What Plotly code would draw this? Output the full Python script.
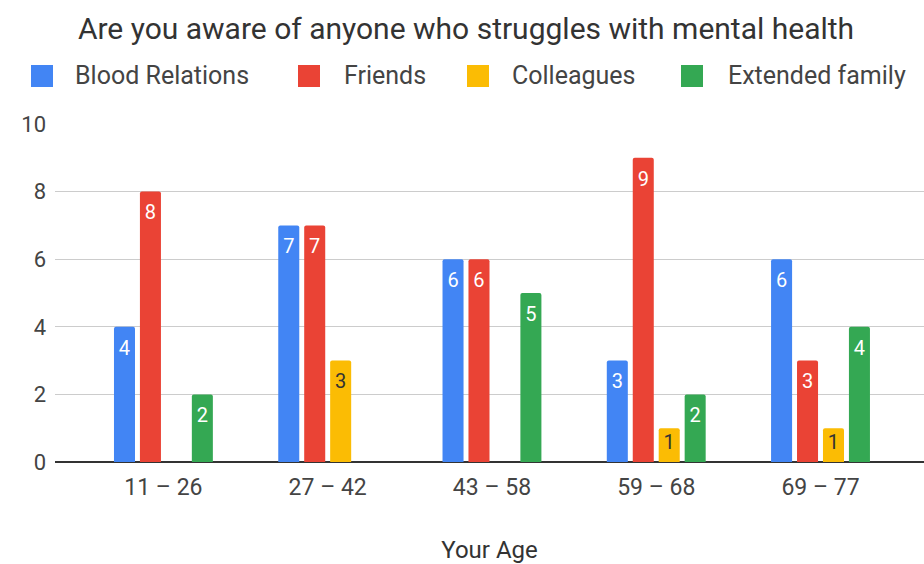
import plotly.graph_objects as go

# Survey responses: number of people each age group knows who struggle with mental health
age_groups = ["11 – 26", "27 – 42", "43 – 58", "59 – 68", "69 – 77"]
series_names = ["Blood Relations", "Friends", "Colleagues", "Extended family"]
blood_relations = [4, 7, 6, 3, 6]
friends = [8, 7, 6, 9, 3]
colleagues = [None, 3, None, 1, 1]
extended_family = [2, None, 5, 2, 4]
series_values = [blood_relations, friends, colleagues, extended_family]

colors = ["#4285F4", "#EA4335", "#FBBC04", "#34A853"]
label_colors = ["#ffffff", "#ffffff", "#333333", "#ffffff"]
y_ticks = [0, 2, 4, 6, 8, 10]

FONT = "Roboto, Arial, sans-serif"
W, H = 924, 564
M_L, M_R, M_T, M_B = 55, 0, 124, 102
BARGAP = 0.368

fig = go.Figure()
for i, (name, vals, col) in enumerate(zip(series_names, series_values, colors)):
    fig.add_trace(go.Bar(
        name=name,
        x=age_groups,
        y=vals,
        offsetgroup=str(i),
        marker=dict(color=col, line=dict(width=0)),
        showlegend=False,
        hoverinfo="x+y+name",
    ))

# Value labels drawn just below each bar's top; an invisible marker sets the gap
for i, (name, vals, lcol) in enumerate(zip(series_names, series_values, label_colors)):
    fig.add_trace(go.Scatter(
        name=name,
        x=age_groups,
        y=vals,
        offsetgroup=str(i),
        mode="markers+text",
        text=[("" if v is None else str(v)) for v in vals],
        textposition="bottom center",
        textfont=dict(family=FONT, size=20, color=lcol),
        marker=dict(size=[(7 if (v is not None and v < 2) else 19) for v in vals],
                    opacity=0),
        cliponaxis=False,
        showlegend=False,
        hoverinfo="skip",
    ))

# Custom legend row above the plot (pixel positions converted to paper coords)
plot_w = W - M_L - M_R
plot_h = H - M_T - M_B


def px_x(px):
    return (px - M_L) / plot_w


def px_y(py):
    return (H - M_B - py) / plot_h


legend_square_x = [31, 298, 467, 681]
legend_text_x = [73, 342, 510, 726]
shapes = []
annotations = []
for name, col, sx, tx in zip(series_names, colors, legend_square_x, legend_text_x):
    shapes.append(dict(
        type="rect", xref="paper", yref="paper",
        x0=px_x(sx), x1=px_x(sx + 22), y0=px_y(87), y1=px_y(65),
        fillcolor=col, line=dict(width=0),
    ))
    annotations.append(dict(
        text=name, xref="paper", yref="paper",
        x=px_x(tx), y=px_y(76), xanchor="left", yanchor="middle",
        showarrow=False, font=dict(family=FONT, size=25, color="#444444"),
    ))

fig.update_layout(
    width=W, height=H,
    margin=dict(l=M_L, r=M_R, t=M_T, b=M_B),
    paper_bgcolor="white", plot_bgcolor="white",
    barmode="group", bargap=BARGAP, bargroupgap=0.19,
    scattermode="group", scattergap=BARGAP,
    barcornerradius=2,
    title=dict(
        text="Are you aware of anyone who struggles with mental health",
        x=466 / W, xanchor="center", xref="container",
        y=1 - 28 / H, yanchor="middle", yref="container",
        font=dict(family=FONT, size=30, color="#333333"),
    ),
    shapes=shapes,
    annotations=annotations,
    xaxis=dict(
        range=[-0.66, 4.63],
        showgrid=False, showline=False, zeroline=False, ticks="",
        tickfont=dict(family=FONT, size=23, color="#444444"),
        ticklabelstandoff=9,
        title=dict(text="Your Age", standoff=44,
                   font=dict(family=FONT, size=24, color="#333333")),
    ),
    yaxis=dict(
        range=[0, 10], tickvals=y_ticks, ticktext=[str(t) for t in y_ticks],
        showgrid=True, gridcolor="#cccccc", gridwidth=1,
        zeroline=True, zerolinecolor="#333333", zerolinewidth=2,
        showline=False, ticks="",
        tickfont=dict(family=FONT, size=22, color="#444444"),
        ticklabelstandoff=8,
    ),
)

fig.write_html("out.html")
